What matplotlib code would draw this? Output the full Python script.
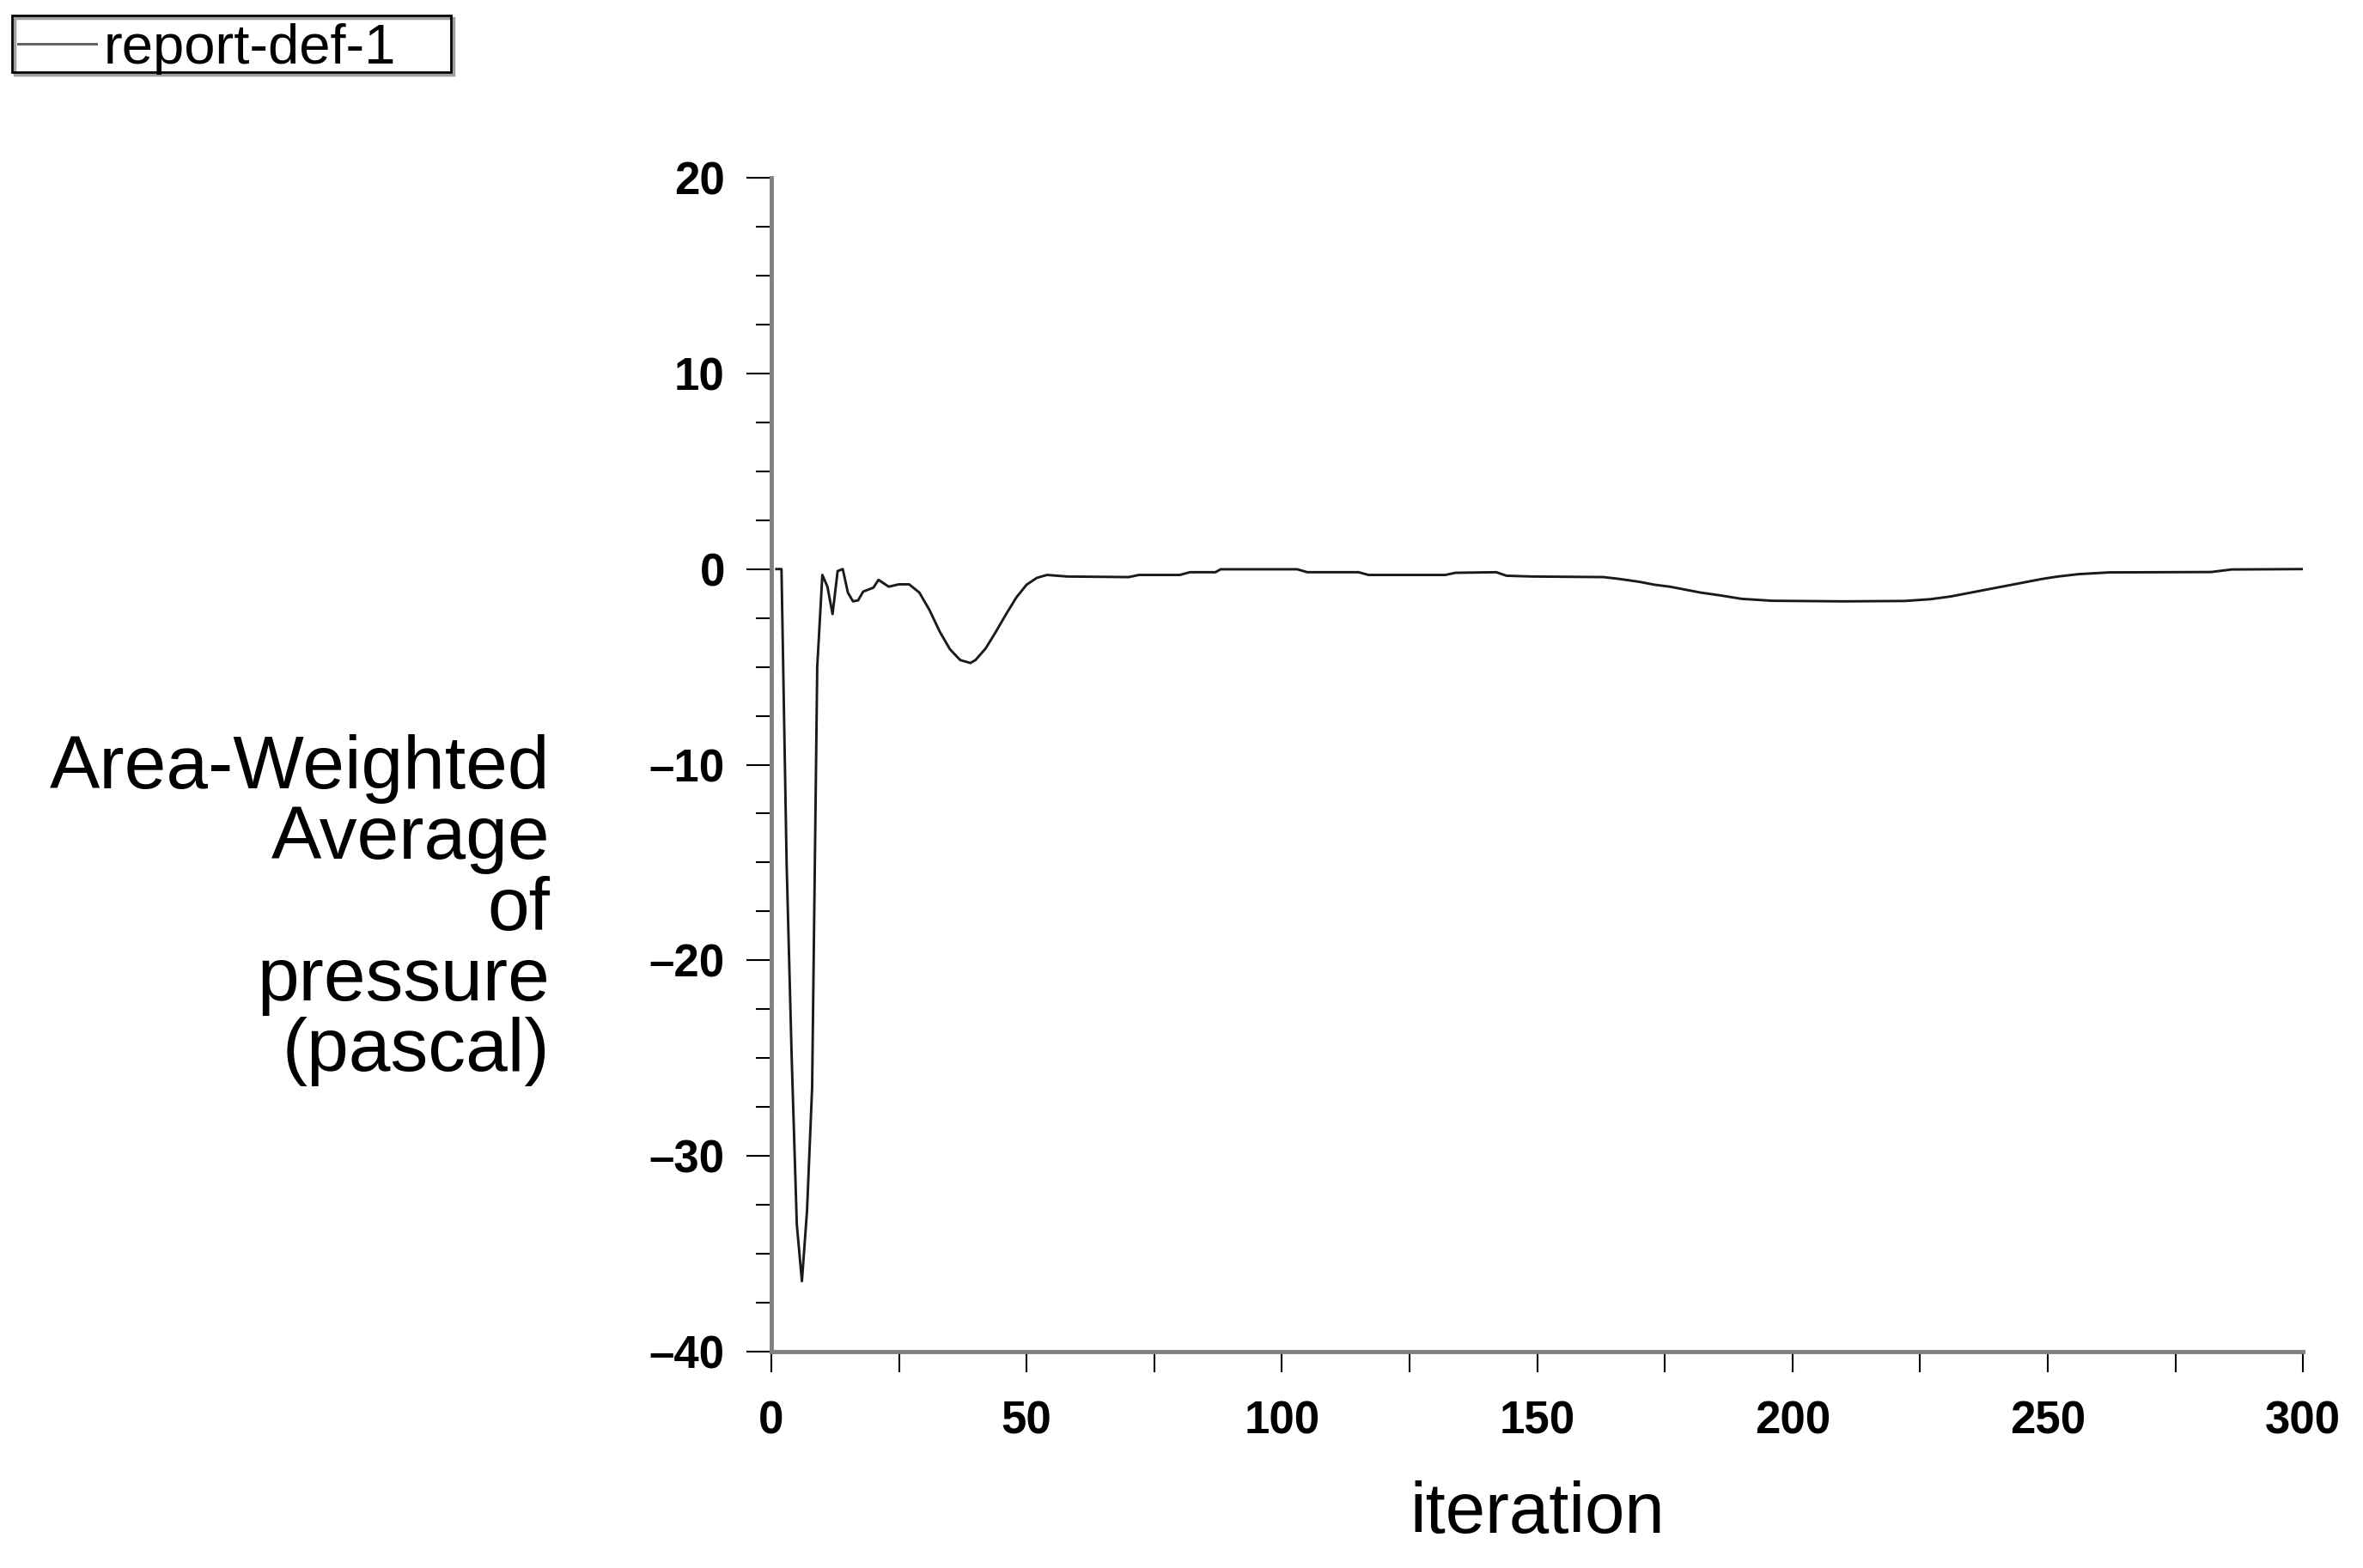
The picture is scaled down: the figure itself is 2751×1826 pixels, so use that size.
import matplotlib
matplotlib.use("Agg")
import matplotlib.pyplot as plt
from matplotlib.ticker import MultipleLocator
from matplotlib.patches import Rectangle

plt.rcParams['font.family'] = ['Liberation Sans', 'DejaVu Sans']

# report-def-1: area-weighted average of pressure per iteration
iterations = [1, 2, 3, 4, 5, 6, 7, 8, 9, 10, 11, 12, 13, 14, 15, 16, 17, 18, 19, 20,
              21, 23, 25, 27, 29, 31, 33, 35, 37, 39, 40, 42, 44, 46, 48, 50, 52, 54,
              58, 70, 72, 80, 82, 87, 88, 103, 105, 115, 117, 132, 134, 142, 144, 149,
              163, 166, 170, 173, 176, 179, 182, 186, 190, 196, 210, 222, 227, 231, 234,
              237, 240, 243, 246, 249, 252, 256, 262, 282, 286, 300]
pressure = [0.0, 0.0, -15.0, -25.0, -33.5, -36.4, -32.8, -26.5, -5.0, -0.3, -0.9, -2.3,
            -0.1, 0.0, -1.2, -1.65, -1.6, -1.15, -1.05, -0.95, -0.55, -0.9, -0.78, -0.78,
            -1.2, -2.1, -3.2, -4.1, -4.65, -4.8, -4.65, -4.05, -3.2, -2.3, -1.45, -0.8,
            -0.45, -0.3, -0.38, -0.41, -0.3, -0.3, -0.16, -0.16, -0.01, -0.01, -0.16,
            -0.16, -0.3, -0.3, -0.19, -0.16, -0.34, -0.38, -0.41, -0.5, -0.65, -0.8,
            -0.9, -1.05, -1.2, -1.35, -1.52, -1.62, -1.65, -1.63, -1.54, -1.4, -1.25,
            -1.1, -0.95, -0.8, -0.65, -0.5, -0.38, -0.26, -0.17, -0.15, -0.02, 0.0]

x_ticks = [0, 50, 100, 150, 200, 250, 300]
y_ticks = [-40, -30, -20, -10, 0, 10, 20]
y_tick_labels = ['\u201340', '\u201330', '\u201320', '\u201310', '0', '10', '20']

W, H = 2751, 1826
fig = plt.figure(figsize=(W / 100, H / 100), dpi=100)
ax = fig.add_axes([0.3264, 0.138, 0.6482, 0.7486])

line, = ax.plot(iterations, pressure, color='#1a1a1a', lw=2.1, label='report-def-1')

ax.set_xlim(0, 300)
ax.set_ylim(-40, 20)

for side in ['top', 'right']:
    ax.spines[side].set_visible(False)
for side in ['left', 'bottom']:
    ax.spines[side].set_color('#808080')
    ax.spines[side].set_linewidth(3.5)

ax.set_xticks(x_ticks)
ax.set_yticks(y_ticks)
ax.set_yticklabels(y_tick_labels)
ax.xaxis.set_minor_locator(MultipleLocator(25))
ax.yaxis.set_minor_locator(MultipleLocator(2.5))

ax.tick_params(axis='y', which='major', length=21, width=1.5, color='black', pad=18)
ax.tick_params(axis='y', which='minor', length=13, width=1.5, color='black')
ax.tick_params(axis='x', which='both', length=17, width=1.5, color='black', pad=24)
for lab in ax.get_xticklabels() + ax.get_yticklabels():
    lab.set_fontweight('bold')
    lab.set_fontsize(38)

fig.text(0.6505, 1 - 1763 / H, 'iteration', fontsize=60, ha='center', va='center')
fig.text(640 / W, 1 - 1060 / H,
         'Area-Weighted\nAverage\nof\npressure\n(pascal)',
         fontsize=63, ha='right', va='center', multialignment='right', linespacing=1.02)

leg = fig.legend(handles=[line], loc='upper left', bbox_to_anchor=(14 / W, 1 - 20 / H),
                 fontsize=47, frameon=False, borderpad=0.1,
                 handlelength=1.4, handletextpad=0.14, borderaxespad=0)
leg.get_lines()[0].set_color('#606060')

# legend box with a small shadow
fig.add_artist(Rectangle((17 / W, 1 - 87 / H), 511 / W, 66 / H, transform=fig.transFigure,
                         fill=False, ec='#a0a0a0', lw=2.5, zorder=1))
fig.add_artist(Rectangle((14 / W, 1 - 84 / H), 511 / W, 66 / H, transform=fig.transFigure,
                         fc='none', ec='black', lw=2, zorder=2))

fig.savefig('out.png', dpi=100)
